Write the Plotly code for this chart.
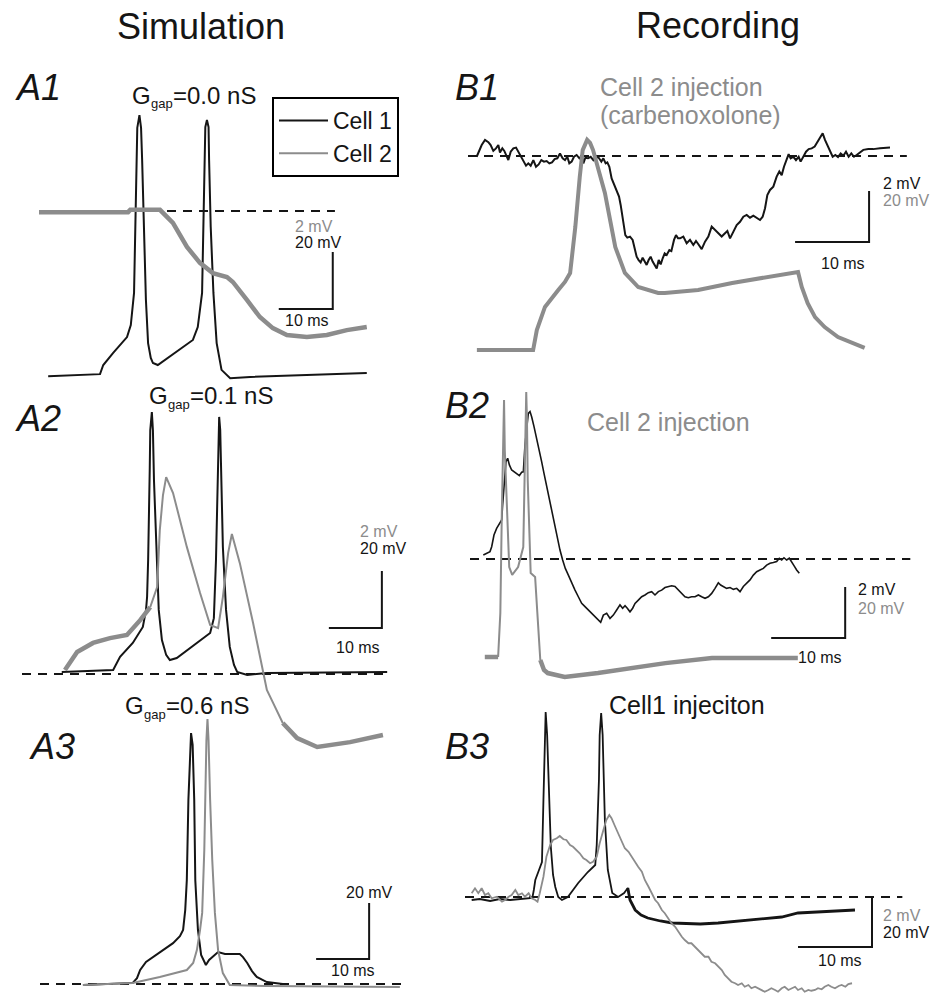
import plotly.graph_objects as go

W, H = 930, 993
BLACK = "#151515"
GRAY = "#8c8c8c"
FONT = "Liberation Sans, Arial, sans-serif"

# ---------------- data (time in ms, voltage in mV relative to rest) ----------------
# A1  Ggap = 0.0 nS
a1_black_t = [1.7, 11.3, 11.9, 13.7, 16.3, 17.0, 17.6, 17.8, 18.1, 18.2, 18.6, 18.9, 19.1, 19.4, 19.8, 20.2, 20.7, 21.1, 22.0,
              28.5, 29.4, 30.2, 30.4, 30.6, 30.8, 31.1, 31.4, 31.5, 31.8, 32.3, 32.9, 33.8, 35.4, 39.1, 60.7]
a1_black_v = [-0.4, 0.3, 3.5, 7.7, 13.3, 17.5, 28.8, 51.9, 75.4, 86.7, 91.2, 86.7, 75.4, 51.9, 26.3, 11.2, 6.0, 4.2, 3.5,
              12.3, 16.8, 28.8, 51.9, 75.4, 87.0, 89.5, 87.0, 75.4, 51.9, 28.8, 11.2, 1.8, -1.1, -0.7, 0.7]
a1_gray_t = [0.0, 16.5, 16.9, 22.4, 24.8, 27.4, 29.8, 32.2, 34.8, 35.9, 38.5, 40.9, 43.3, 45.9, 49.6, 53.3, 57.0, 60.7]
a1_gray_v = [-0.04, -0.04, 0.04, 0.04, -0.42, -1.26, -1.82, -2.18, -2.32, -2.49, -3.12, -3.72, -4.11, -4.35, -4.42, -4.35, -4.18, -4.07]

# B1  Cell 2 injection (carbenoxolone)
b1_black_t = [1.17, 1.53, 1.85, 2.30, 2.75, 3.06, 3.42, 3.78, 4.10, 4.32, 4.64, 4.91, 5.23, 5.45, 5.77, 6.13, 6.49, 6.80, 7.12, 7.48,
              7.84, 8.15, 8.47, 8.83, 9.19, 9.55, 9.91, 10.27, 10.63, 10.99, 11.35, 11.71, 12.07, 12.43, 12.79, 13.11, 13.42, 13.69,
              14.01, 14.32, 14.68, 15.05, 15.41, 15.59, 15.86, 16.22, 16.58, 16.94, 17.30, 17.66, 18.02, 18.29, 18.60, 18.83, 19.10,
              19.41, 19.73, 20.09, 20.41, 20.63, 20.90, 21.08, 21.26, 21.53, 21.89, 22.25, 22.52, 22.79, 23.06, 23.33, 23.60, 23.87,
              24.14, 24.41, 24.68, 24.95, 25.23, 25.50, 25.77, 26.04, 26.31, 26.58, 26.85, 27.21, 27.48, 27.84, 28.11, 28.38,
              28.65, 29.10, 29.55, 30.00, 30.45, 30.81, 31.13, 31.58, 32.03, 32.48, 32.93, 33.38, 33.83, 34.28, 34.73, 35.05, 35.41,
              35.86, 36.31, 36.76, 37.21, 37.66, 38.11, 38.56, 39.01, 39.46, 39.82, 40.14, 40.45, 40.81, 41.26, 41.71, 42.07, 42.39,
              42.70, 43.06, 43.33, 43.60, 43.96, 44.32, 44.68, 44.95, 45.32, 45.68, 46.04, 46.44, 46.85, 47.21, 47.57, 47.93, 48.24,
              48.56, 48.92, 49.28, 49.64, 50.00, 50.36, 50.72, 51.08, 51.44, 51.80, 52.16, 52.52, 52.97, 53.42, 54.10, 54.77, 55.68, 57.03]
b1_black_v = [-0.03, 0.24, 0.43, 0.63, 0.54, 0.43, 0.20, 0.30, 0.43, 0.14, 0.30, 0.20, -0.03, -0.16, 0.17, 0.30, 0.33, 0.17, -0.03, -0.16,
              -0.38, -0.29, -0.38, -0.16, -0.42, -0.33, -0.16, -0.22, -0.20, -0.29, -0.25, -0.12, -0.09, 0.10, -0.09, -0.16, -0.03, -0.29,
              -0.22, -0.03, 0.04, -0.09, 0.01, -0.29, -0.07, -0.09, -0.03, -0.16, -0.03, -0.07, -0.22, -0.09, -0.29, -0.25, -0.42,
              -0.88, -1.11, -1.33, -1.59, -1.92, -2.44, -2.84, -3.10, -3.20, -3.16, -3.29, -3.69, -3.95, -4.08, -4.17, -3.99, -4.14,
              -4.27, -4.08, -3.95, -4.14, -4.27, -4.41, -4.08, -4.25, -4.01, -3.82, -3.88, -3.69, -3.73, -3.29, -3.10, -3.23,
              -3.23, -3.16, -3.42, -3.29, -3.49, -3.33, -3.46, -3.65, -3.36, -3.16, -2.77, -2.90, -3.03, -3.16, -3.03, -2.94, -3.23,
              -2.97, -2.71, -2.58, -2.38, -2.31, -2.42, -2.34, -2.44, -2.51, -2.38, -2.05, -1.53, -1.33, -1.20, -0.81, -0.61, -0.75,
              -0.42, -0.16, 0.07, -0.09, -0.03, -0.16, -0.03, -0.22, -0.03, 0.17, 0.27, 0.30, 0.37, 0.56, 0.76, 0.89, 0.63,
              0.43, 0.24, -0.03, 0.04, -0.04, 0.10, 0.01, 0.17, -0.03, 0.10, -0.03, 0.04, 0.14, 0.24, 0.27, 0.27, 0.30, 0.33]
b1_gray_t = [1.2, 8.8, 9.3, 10.4, 12.2, 13.1, 13.8, 14.5, 15.1, 15.5, 16.1, 16.5, 16.9, 18.5, 19.9, 21.2, 23.0, 25.7, 26.6, 31.1,
             35.7, 40.1, 44.6, 45.1, 45.9, 46.9, 48.2, 50.0, 51.9, 53.6]
b1_gray_v = [0.0, 0.0, 7.8, 16.9, 23.5, 26.7, 30.2, 48.2, 67.8, 78.4, 82.4, 81.2, 78.4, 61.6, 40.4, 30.2, 24.7, 22.4, 22.4, 23.5,
             26.3, 28.6, 30.6, 24.7, 18.4, 12.9, 9.0, 5.1, 2.7, 0.8]

# A2  Ggap = 0.1 nS
a2_black_t = [7.5, 17.2, 18.5, 20.9, 22.8, 23.4, 23.6, 23.8, 24.1, 24.2, 24.5, 24.7, 24.9, 25.3, 25.8, 26.4, 27.2, 27.9, 29.2,
              35.5, 36.2, 36.6, 36.9, 37.1, 37.2, 37.4, 37.6, 37.9, 38.5, 39.2, 40.0, 40.6, 42.5, 46.2, 68.9]
a2_black_v = [0.7, 1.4, 6.0, 10.9, 16.5, 22.5, 27.0, 40.0, 71.6, 85.6, 91.9, 85.6, 68.1, 44.6, 22.5, 11.9, 6.7, 4.9, 5.6,
              14.4, 19.6, 40.0, 71.6, 85.6, 90.2, 85.6, 68.1, 44.6, 22.5, 9.5, 3.2, 0.7, -0.35, 0.35, 0.7]
a2_gray_t = [8.1, 10.4, 13.4, 16.6, 19.8, 22.3, 24.2, 25.5, 26.0, 26.6, 27.2, 28.5, 31.1, 33.6, 35.5, 37.0, 37.9, 38.9, 39.6,
             41.1, 43.6, 46.2, 47.4, 49.2, 51.9, 55.7, 58.7, 61.9, 68.1]
a2_gray_v = [0.14, 0.77, 1.09, 1.26, 1.37, 1.89, 2.35, 3.05, 5.05, 6.28, 6.91, 6.35, 4.46, 2.84, 1.72, 1.61, 2.70, 4.25, 4.91,
             3.89, 1.79, -0.56, -1.02, -1.72, -2.25, -2.56, -2.49, -2.39, -2.14]

# B2  Cell 2 injection
b2_black_t = [1.80, 2.25, 2.70, 2.93, 3.24, 3.60, 3.96, 4.28, 4.41, 4.59, 4.86, 5.09, 5.32, 5.63, 5.95, 6.31, 6.67, 6.98, 7.21,
              7.43, 7.66, 7.88, 8.11, 8.33, 8.65, 9.01, 9.37, 9.68, 10.00, 10.36, 10.72, 11.08, 11.44, 11.80, 12.16, 12.52, 12.88,
              13.29, 13.74, 14.19, 14.64, 15.09, 15.54, 15.99, 16.44, 16.89, 17.34, 17.66, 18.02, 18.47, 18.92, 19.37, 19.82,
              20.27, 20.63, 20.95, 21.26, 21.62, 21.98, 22.30, 22.75, 23.20, 23.65, 24.10, 24.55, 25.00, 25.45, 25.90, 26.35,
              26.80, 27.25, 27.70, 28.15, 28.60, 29.05, 29.50, 29.95, 30.41, 30.86, 31.31, 31.76, 32.21, 32.66, 33.11, 33.56,
              33.87, 34.23, 34.68, 35.14, 35.59, 36.04, 36.49, 36.94, 37.39, 37.84, 38.29, 38.74, 39.19, 39.64, 40.09, 40.54,
              40.99, 41.44, 41.80, 42.12, 42.43, 42.79, 43.15, 43.47, 43.78, 44.14, 44.50]
b2_black_v = [0.16, 0.22, 0.29, 0.48, 0.94, 1.20, 1.40, 1.53, 2.12, 2.77, 3.82, 3.95, 3.69, 3.49, 3.42, 3.36, 3.27, 3.40, 3.42,
              4.47, 5.25, 5.71, 5.78, 5.58, 5.19, 4.73, 4.34, 3.82, 3.36, 2.84, 2.31, 1.79, 1.27, 0.81, 0.35, -0.04, -0.37,
              -0.63, -0.95, -1.22, -1.48, -1.74, -1.87, -2.00, -2.13, -2.26, -2.39, -2.48, -2.20, -2.13, -2.33, -2.20, -2.00,
              -1.80, -1.93, -1.83, -1.93, -2.07, -1.93, -1.74, -1.61, -1.48, -1.41, -1.32, -1.28, -1.41, -1.28, -1.22, -1.12,
              -1.08, -1.05, -1.08, -1.22, -1.35, -1.48, -1.52, -1.48, -1.48, -1.41, -1.48, -1.54, -1.48, -1.35, -1.15, -0.93,
              -1.02, -1.08, -1.15, -1.12, -1.19, -1.15, -1.28, -1.08, -0.95, -0.82, -0.63, -0.50, -0.43, -0.37, -0.24, -0.17,
              -0.14, -0.10, 0.03, -0.04, 0.05, -0.04, 0.03, -0.10, -0.26, -0.43, -0.56]
b2_gray_t = [2.0, 3.8, 4.1, 4.3, 4.5, 4.6, 4.7, 5.0, 5.3, 5.7, 6.5, 7.2, 7.4, 7.6, 7.7, 7.8, 8.2, 8.8, 9.1, 9.5,
             10.0, 10.5, 12.8, 17.3, 21.9, 26.4, 32.7, 37.6, 44.3]
b2_gray_v = [0.0, 0.0, 17.3, 56.5, 81.2, 100.8, 81.2, 56.5, 35.3, 32.2, 35.3, 43.1, 69.4, 103.9, 92.9, 69.4, 32.9, 31.4, 17.3, -1.2,
             -5.1, -6.3, -7.8, -6.3, -4.3, -2.4, -0.4, -0.4, -0.4]

# A3  Ggap = 0.6 nS
a3_black_t = [8.1, 17.5, 18.3, 18.9, 20.0, 21.3, 23.2, 25.1, 26.4, 27.0, 27.4, 27.7, 28.0, 28.3, 28.5, 28.8, 29.1, 29.3, 29.8,
              30.4, 31.3, 31.9, 32.5, 33.6, 34.9, 37.7, 38.3, 39.1, 40.0, 40.9, 42.8, 45.8]
a3_black_v = [-0.4, 0.4, 2.1, 5.0, 7.9, 9.6, 11.8, 14.6, 17.1, 19.3, 26.4, 37.1, 65.7, 85.4, 89.6, 85.4, 65.7, 37.1, 19.3,
              10.4, 6.8, 8.6, 9.6, 11.4, 10.7, 10.7, 9.6, 7.5, 4.6, 2.5, 0.7, 0.0]
a3_gray_t = [8.1, 17.5, 22.6, 27.7, 28.9, 29.6, 30.2, 30.6, 31.0, 31.1, 31.4, 31.6, 31.8, 32.1, 32.5, 33.0, 33.6, 34.5, 35.8,
             42.8, 67.9]
a3_gray_v = [-0.4, 0.4, 2.5, 5.0, 7.5, 12.1, 19.3, 25.4, 47.9, 61.1, 87.1, 94.6, 87.1, 65.7, 44.3, 25.4, 12.1, 3.9, -0.4,
             -0.7, -1.1]

# B3  Cell 1 injection
b3_black_t = [0.9, 2.0, 3.4, 4.7, 6.1, 9.1, 9.3, 9.5, 9.9, 10.4, 10.6, 10.8, 10.9, 11.1, 11.4, 11.6, 11.9, 12.2, 12.6, 13.1,
              13.9, 15.3, 16.6, 17.6, 17.8, 18.1, 18.2, 18.4, 18.6, 18.8, 18.9, 19.3, 19.9, 20.7, 21.5, 22.0,
              22.3, 23.0, 23.8, 24.7, 26.4, 28.0, 31.8, 34.2, 38.2, 42.8, 45.0, 49.3, 52.7]
b3_black_v = [-1.2, -0.8, -1.6, -0.8, -1.2, -0.4, 2.8, 6.8, 10.0, 14.0, 38.8, 64.8, 74.0, 64.8, 38.8, 20.0, 8.8, 4.0, 0.0, -1.2,
              0.0, 5.6, 10.0, 12.8, 20.8, 46.8, 64.8, 73.6, 64.8, 42.8, 30.8, 10.8, 1.6, 0.0, 1.6, 3.6,
              -1.2, -5.2, -7.2, -8.4, -9.6, -10.4, -10.8, -10.4, -9.2, -8.0, -6.4, -5.6, -5.2]
b3_gray_t = [0.9, 1.35, 1.8, 2.25, 2.7, 3.15, 3.6, 4.3, 5.0, 5.4, 5.9, 6.3, 6.8, 7.2, 7.7, 8.1, 8.6, 9.0, 9.5, 9.8,
             10.1, 10.6, 11.0, 11.5, 11.9, 12.4, 12.8, 13.3, 13.7, 14.2, 14.6, 15.1, 15.5, 16.0, 16.4, 16.9, 17.3, 17.8,
             18.2, 18.7, 19.1, 19.5, 19.8, 20.3, 20.7, 21.2, 21.6, 22.1, 22.5, 23.0, 23.4, 23.9, 24.3, 24.8, 25.2, 25.7,
             26.1, 26.6, 27.0, 27.5, 27.9, 28.4, 28.8, 29.3, 29.7, 30.2, 30.6, 31.1, 31.5, 32.0, 32.4, 32.9, 33.3, 33.8,
             34.2, 34.7, 35.1, 35.6, 36.0, 36.5, 36.9, 37.4, 37.8, 38.3, 38.7, 39.2, 39.6, 40.1, 40.5, 41.0, 41.4, 41.9,
             42.3, 42.8, 43.2, 43.7, 44.1, 44.6, 45.0, 45.5, 45.9, 46.4, 46.8, 47.3, 47.7, 48.2, 48.6, 49.1, 49.5, 50.0,
             50.5, 50.9, 51.4, 51.8, 52.3]
b3_gray_v = [0.15, 0.35, 0.15, 0.35, 0.08, 0.15, -0.05, 0.01, -0.19, -0.12, 0.01, 0.08, 0.28, 0.08, 0.15, 0.01, 0.15, -0.05, -0.12, -0.19,
             0.15, 0.81, 1.61, 2.08, 2.28, 2.35, 2.44, 2.31, 2.28, 2.08, 2.01, 1.88, 1.75, 1.55, 1.48, 1.35, 1.41, 1.61,
             2.15, 2.68, 3.08, 3.28, 3.15, 2.81, 2.55, 2.28, 1.95, 1.81, 1.61, 1.41, 1.21, 1.01, 0.68, 0.41, 0.15, -0.12,
             -0.25, -0.52, -0.65, -0.85, -1.05, -1.19, -1.39, -1.59, -1.72, -1.85, -1.85, -1.99, -2.12, -2.25, -2.39, -2.39,
             -2.59, -2.65, -2.79, -2.92, -3.12, -3.25, -3.39, -3.45, -3.52, -3.45, -3.59, -3.52, -3.65, -3.59, -3.65, -3.72,
             -3.79, -3.72, -3.65, -3.72, -3.79, -3.65, -3.59, -3.72, -3.65, -3.59, -3.72, -3.65, -3.79, -3.72, -3.75, -3.72,
             -3.65, -3.69, -3.59, -3.52, -3.59, -3.65, -3.56, -3.52, -3.59, -3.48, -3.45]

# ---------------- per-panel geometry (pixel placement of each panel's scales) ----------------
panels = {
    "A1": dict(x0=39, sx=5.4, yb_k=375, sk=2.85, yb_g=211, sg=28.5, dash_end=54.8, dash_ax="g",
               bar=dict(ax="k", t=54.4, v=23.2, h=20)),
    "B1": dict(x0=468, sx=7.4, yb_k=156, sk=25.5, yb_g=350, sg=2.55, dash_end=59.3, dash_ax="k",
               bar=dict(ax="k", t=54.2, v=-3.37, h=2)),
    "A2": dict(x0=22, sx=5.3, yb_k=674, sk=2.85, yb_g=674, sg=28.5, dash_end=69.1, dash_ax="k",
               bar=dict(ax="k", t=67.9, v=16.1, h=20)),
    "B2": dict(x0=470, sx=7.4, yb_k=559, sk=25.5, yb_g=657, sg=2.55, dash_end=59.5, dash_ax="k",
               bar=dict(ax="k", t=50.7, v=-3.10, h=2)),
    "A3": dict(x0=40, sx=5.3, yb_k=984, sk=2.8, yb_g=984, sg=2.8, dash_end=69.2, dash_ax="k",
               bar=dict(ax="k", t=62.1, v=8.9, h=20)),
    "B3": dict(x0=465, sx=7.4, yb_k=897, sk=2.5, yb_g=897, sg=25.0, dash_end=59.1, dash_ax="g",
               bar=dict(ax="g", t=55.0, v=-2.0, h=2)),
}

fig = go.Figure()
layout_axes = {}
axis_ids = {}
for i, (name, p) in enumerate(panels.items()):
    xi = i + 1
    yk = 2 * i + 1
    yg = 2 * i + 2
    axis_ids[name] = dict(x=f"x{xi}" if xi > 1 else "x",
                          k=f"y{yk}" if yk > 1 else "y",
                          g=f"y{yg}")
    xr = [-p["x0"] / p["sx"], (W - p["x0"]) / p["sx"]]
    yrk = [(p["yb_k"] - H) / p["sk"], p["yb_k"] / p["sk"]]
    yrg = [(p["yb_g"] - H) / p["sg"], p["yb_g"] / p["sg"]]
    common = dict(visible=False, showgrid=False, zeroline=False, fixedrange=True, domain=[0, 1])
    xa = dict(range=xr, anchor="free", position=0, **common)
    if xi > 1:
        xa["overlaying"] = "x"
    layout_axes["xaxis" if xi == 1 else f"xaxis{xi}"] = xa
    ya = dict(range=yrk, anchor="free", position=0, **common)
    if yk > 1:
        ya["overlaying"] = "y"
    layout_axes["yaxis" if yk == 1 else f"yaxis{yk}"] = ya
    layout_axes[f"yaxis{yg}"] = dict(range=yrg, anchor="free", position=0, overlaying="y", **common)


def add_line(panel, axkey, t, v, color, width, dash=None):
    ids = axis_ids[panel]
    fig.add_trace(go.Scatter(x=t, y=v, mode="lines", xaxis=ids["x"], yaxis=ids[axkey],
                             line=dict(color=color, width=width, dash=dash),
                             showlegend=False, hoverinfo="skip"))


def split(t, v, a, b):
    tt = [x for x in t if a <= x <= b]
    vv = [y for x, y in zip(t, v) if a <= x <= b]
    return tt, vv


DASH = "9px,7px"
# dashed baselines + scale bars
for name, p in panels.items():
    add_line(name, p["dash_ax"], [0, p["dash_end"]], [0, 0], BLACK, 2, DASH)
    b = p["bar"]
    add_line(name, b["ax"], [b["t"] - 10, b["t"], b["t"]], [b["v"], b["v"], b["v"] + b["h"]], BLACK, 2)

# A1
add_line("A1", "k", a1_black_t, a1_black_v, BLACK, 2)
add_line("A1", "g", a1_gray_t, a1_gray_v, GRAY, 4.5)
# B1
add_line("B1", "g", b1_gray_t, b1_gray_v, GRAY, 4)
add_line("B1", "k", b1_black_t, b1_black_v, BLACK, 2)
# A2
add_line("A2", "k", a2_black_t, a2_black_v, BLACK, 2)
add_line("A2", "g", *split(a2_gray_t, a2_gray_v, 0, 24.2), GRAY, 4.5)
add_line("A2", "g", *split(a2_gray_t, a2_gray_v, 24.2, 49.2), GRAY, 2)
add_line("A2", "g", *split(a2_gray_t, a2_gray_v, 49.2, 99), GRAY, 4.5)
# B2
add_line("B2", "g", *split(b2_gray_t, b2_gray_v, 0, 3.8), GRAY, 4.5)
add_line("B2", "g", *split(b2_gray_t, b2_gray_v, 3.8, 9.5), GRAY, 2)
add_line("B2", "g", *split(b2_gray_t, b2_gray_v, 9.5, 99), GRAY, 4.5)
add_line("B2", "k", b2_black_t, b2_black_v, BLACK, 1.6)
# A3
add_line("A3", "g", a3_gray_t, a3_gray_v, GRAY, 2)
add_line("A3", "k", a3_black_t, a3_black_v, BLACK, 2)
# B3
add_line("B3", "g", b3_gray_t, b3_gray_v, GRAY, 1.8)
add_line("B3", "k", *split(b3_black_t, b3_black_v, 0, 22.3), BLACK, 1.8)
add_line("B3", "k", *split(b3_black_t, b3_black_v, 22.0, 99), BLACK, 2.8)

# legend entries
fig.add_trace(go.Scatter(x=[None], y=[None], mode="lines", name="Cell 1", line=dict(color=BLACK, width=2)))
fig.add_trace(go.Scatter(x=[None], y=[None], mode="lines", name="Cell 2", line=dict(color=GRAY, width=2)))

# ---------------- text ----------------
anns = []


def ann(text, px, py, size, color=BLACK, xanchor="center", style="normal"):
    anns.append(dict(text=text, x=px / W, y=1 - py / H, xref="paper", yref="paper",
                     xanchor=xanchor, yanchor="middle", showarrow=False,
                     font=dict(family=FONT, size=size, color=color, style=style)))


ann("Simulation", 201, 27, 36)
ann("Recording", 718, 26, 36)
for lab, px, py in [("A1", 13, 88), ("B1", 453, 87), ("A2", 13, 418), ("B2", 443, 405), ("A3", 27, 746), ("B3", 443, 746)]:
    ann(lab, px, py, 36, xanchor="left", style="italic")

# G_gap titles: main letter, small subscript, value
for gx, gy, val in [(130, 95, "=0.0 nS"), (147, 395, "=0.1 nS"), (123, 705, "=0.6 nS")]:
    ann("G", gx, gy, 24, xanchor="left")
    ann("gap", gx + 18.5, gy + 9, 13, xanchor="left")
    ann(val, gx + 40.5, gy, 24, xanchor="left")

ann("Cell 2 injection", 598, 87, 25, GRAY, "left")
ann("(carbenoxolone)", 598, 115, 25, GRAY, "left")
ann("Cell 2 injection", 585, 422, 25, GRAY, "left")
ann("Cell1 injeciton", 607, 705, 25, BLACK, "left")

SL = 16
# scale-bar labels
ann("2 mV", 293, 226, SL, GRAY, "left"); ann("20 mV", 293, 243, SL, BLACK, "left"); ann("10 ms", 307, 320, SL)
ann("2 mV", 881, 183, SL, BLACK, "left"); ann("20 mV", 881, 201, SL, GRAY, "left"); ann("10 ms", 843, 263, SL)
ann("2 mV", 358, 531, SL, GRAY, "left"); ann("20 mV", 358, 548, SL, BLACK, "left"); ann("10 ms", 358, 647, SL)
ann("2 mV", 856, 589, SL, BLACK, "left"); ann("20 mV", 856, 608, SL, GRAY, "left"); ann("10 ms", 820, 657, SL)
ann("20 mV", 369, 892, SL); ann("10 ms", 353, 970, SL)
ann("2 mV", 881, 915, SL, GRAY, "left"); ann("20 mV", 881, 932, SL, BLACK, "left"); ann("10 ms", 840, 960, SL)

fig.update_layout(
    width=W, height=H, autosize=False,
    margin=dict(l=0, r=0, t=0, b=0, pad=0),
    paper_bgcolor="white", plot_bgcolor="white",
    annotations=anns,
    showlegend=True,
    legend=dict(x=272 / W, y=1 - 97 / H, xanchor="left", yanchor="top",
                bordercolor="black", borderwidth=2, bgcolor="white",
                font=dict(family=FONT, size=23, color=BLACK),
                itemwidth=49, tracegroupgap=0),
    **layout_axes,
)

fig.write_html("out.html", config={"displayModeBar": False},
               post_script="document.body.style.margin='0';document.body.style.overflow='hidden';")
